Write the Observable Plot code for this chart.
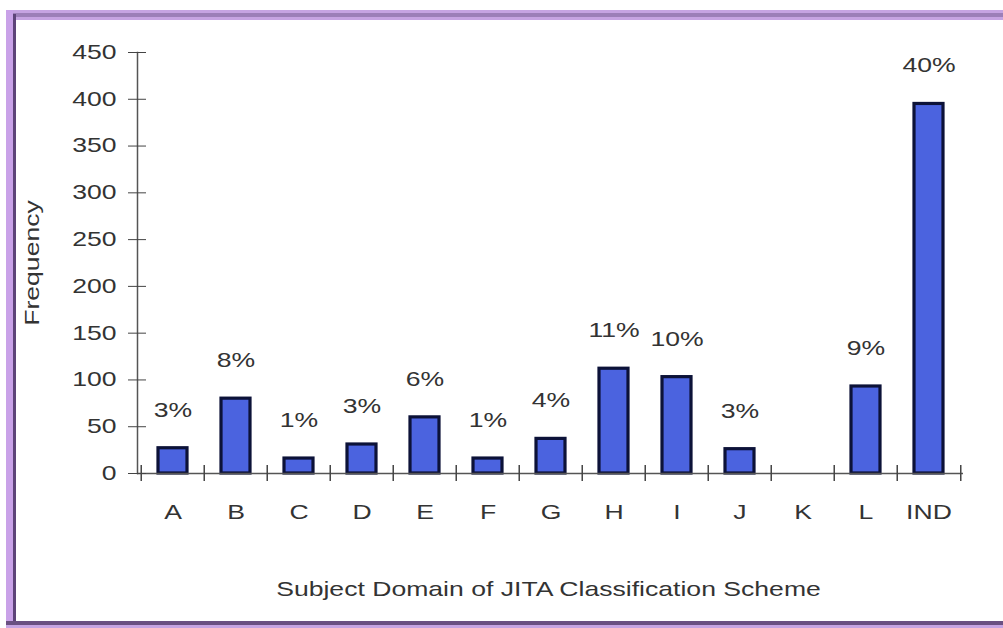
<!DOCTYPE html>
<html>
<head>
<meta charset="utf-8">
<script src="https://cdn.jsdelivr.net/npm/d3@7"></script>
<script src="https://cdn.jsdelivr.net/npm/@observablehq/plot@0.6"></script>
<style>
  html, body { margin: 0; padding: 0; background: #ffffff; }
  #wrap { position: relative; width: 1003px; height: 628px; overflow: hidden; }
  .b { position: absolute; }
</style>
</head>
<body>
<div id="wrap">
  <div id="chart"></div>
  <div class="b" style="left:6px; top:10px; width:997px; height:10px; background:#c6a4e2;"></div>
  <div class="b" style="left:6px; top:13px; width:997px; height:4px; background:#9c7fb8;"></div>
  <div class="b" style="left:6px; top:10px; width:7px; height:618px; background:#c9a2e8;"></div>
  <div class="b" style="left:13px; top:14px; width:3px; height:610px; background:#5e4479;"></div>
  <div class="b" style="left:6px; top:621px; width:997px; height:4px; background:#6a5082;"></div>
  <div class="b" style="left:6px; top:625px; width:997px; height:3px; background:#c6a4e2;"></div>
</div>
<script>
const categories = ["A", "B", "C", "D", "E", "F", "G", "H", "I", "J", "K", "L", "IND"];
const frequency  = [27, 80, 16, 31, 60, 16, 37, 112, 103, 26, 0, 93, 395];
const pctLabels  = ["3%", "8%", "1%", "3%", "6%", "1%", "4%", "11%", "10%", "3%", "", "9%", "40%"];
const yTicks     = [0, 50, 100, 150, 200, 250, 300, 350, 400, 450];
const xTitle = "Subject Domain of JITA Classification Scheme";
const yTitle = "Frequency";

const data = categories.map((c, i) => ({cat: c, value: frequency[i], pct: pctLabels[i]}));

const W = 1003, H = 628;
const mL = 137, mR = 40, mT = 52, mB = 155;
const band = (W - mL - mR) / categories.length;
const font = "Liberation Sans, Arial, sans-serif";
const ink = "#333";

const chart = Plot.plot({
  width: W,
  height: H,
  marginLeft: mL,
  marginRight: mR,
  marginTop: mT,
  marginBottom: mB,
  style: {fontFamily: font, fontSize: "20px", color: ink, background: "transparent"},
  x: {type: "band", domain: categories, padding: 0},
  y: {domain: [0, 450], ticks: yTicks},
  marks: [
    Plot.barY(data.filter(d => d.value > 0), {
      x: "cat", y: "value",
      insetLeft: 17, insetRight: 17,
      fill: "#4b63df", stroke: "#0c1238", strokeWidth: 3.2
    }),
    Plot.frame({anchor: "left", stroke: "#555", strokeWidth: 1.5}),
    Plot.ruleY([0], {stroke: "#555", strokeWidth: 1.5}),
    Plot.ruleX(categories, {x: d => d, y1: -8.5, y2: 8.5, dx: -band / 2, stroke: "#444", strokeWidth: 1.5}),
    Plot.ruleX([categories[categories.length - 1]], {x: d => d, y1: -8.5, y2: 8.5, dx: band / 2, stroke: "#444", strokeWidth: 1.5}),
    Plot.axisY({ticks: yTicks, tickSize: 9, tickPadding: 12, label: null, stroke: "#444", fontSize: 20, fill: ink}),
    Plot.axisY({ticks: yTicks, tickSize: -9, tickFormat: () => "", label: null, stroke: "#444"}),
    Plot.axisX({tickSize: 0, tickPadding: 31, label: null, fontSize: 20, fill: ink}),
    Plot.text(data.filter(d => d.pct), {
      x: "cat", y: "value", text: "pct", dy: -38,
      fontSize: 20, fill: ink, lineAnchor: "middle"
    }),
    Plot.text([xTitle], {frameAnchor: "bottom", dy: 116, dx: -2, fontSize: 20, fill: ink, lineAnchor: "middle", textAnchor: "middle"}),
    Plot.text([yTitle], {frameAnchor: "left", dx: -105, rotate: -90, fontSize: 20, fill: ink, lineAnchor: "middle", textAnchor: "middle"})
  ]
});
document.getElementById("chart").appendChild(chart);

// widen glyphs horizontally (the reference text is stretched)
const sx = 1.33;
chart.querySelectorAll("text").forEach(t => {
  let x = parseFloat(t.getAttribute("x"));
  const xs = t.getAttribute("x") || "";
  if (!isFinite(x) || /em/.test(xs)) x = 0;
  const tr = t.getAttribute("transform") || "";
  t.setAttribute("transform", `${tr} translate(${x},0) scale(${sx},1) translate(${-x},0)`.trim());
});
</script>
</body>
</html>
